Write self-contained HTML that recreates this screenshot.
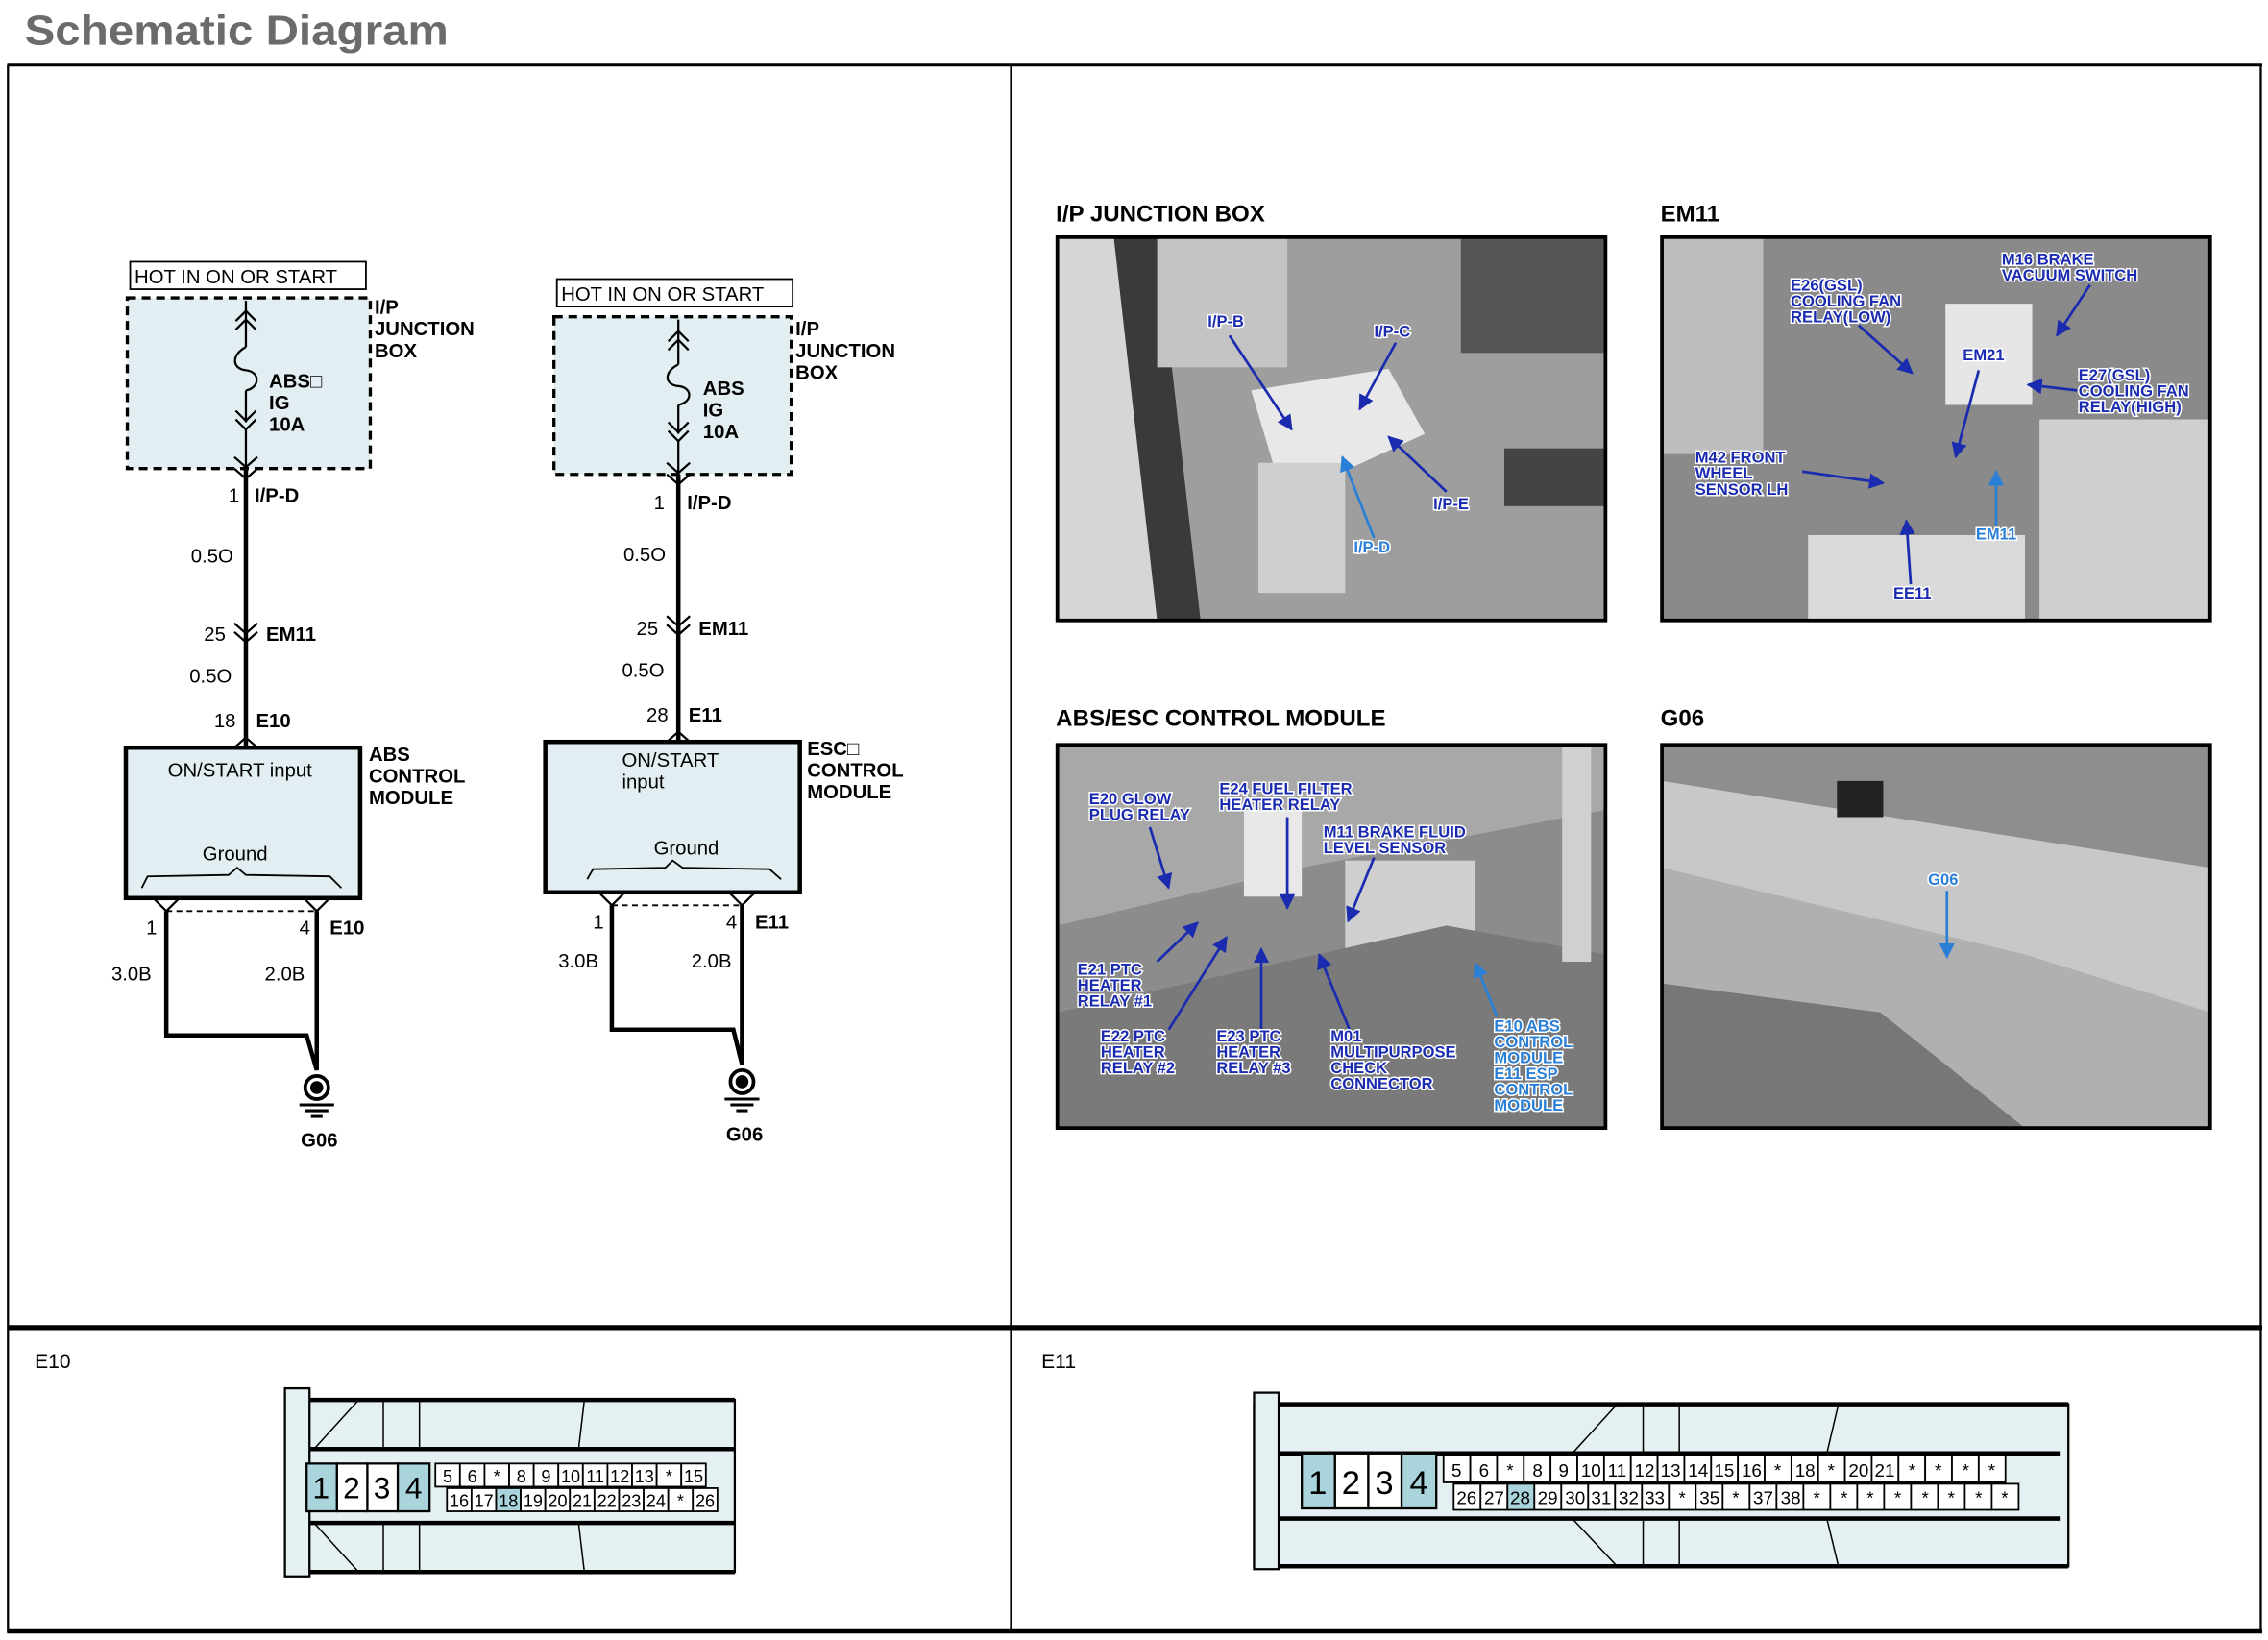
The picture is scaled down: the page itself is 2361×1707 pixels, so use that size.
<!DOCTYPE html>
<html><head><meta charset="utf-8"><style>
html,body{margin:0;padding:0;background:#fff;}
svg{display:block;}
text{font-family:"Liberation Sans",Arial,sans-serif;}
.b{font-weight:bold;font-size:13.5px;}
.n{font-size:13.5px;}
.pl{font-weight:bold;font-size:11px;fill:#1a2bb0;stroke:#fff;stroke-width:2px;paint-order:stroke;}
.pl2{font-weight:bold;font-size:11px;fill:#2a7fd6;stroke:#fff;stroke-width:2px;paint-order:stroke;}
</style></head><body>
<svg width="2361" height="1707" viewBox="0 0 1568 1134" preserveAspectRatio="none" xmlns="http://www.w3.org/2000/svg">
<defs>
<marker id="ar" viewBox="0 0 10 10" refX="9" refY="5" markerWidth="6" markerHeight="6" orient="auto"><path d="M0,0 L10,5 L0,10 z" fill="#1a2bb0"/></marker>
<marker id="ar2" viewBox="0 0 10 10" refX="9" refY="5" markerWidth="6" markerHeight="6" orient="auto"><path d="M0,0 L10,5 L0,10 z" fill="#2a7fd6"/></marker>
</defs>
<rect width="1568" height="1134" fill="#fff"/>
<text x="17" y="31" font-size="29" font-weight="bold" fill="#6b6b6b" textLength="293" lengthAdjust="spacingAndGlyphs">Schematic Diagram</text>
<!-- frame -->
<g stroke="#000" fill="none">
<line x1="5" y1="45" x2="1564" y2="45" stroke-width="2"/>
<line x1="5.5" y1="45" x2="5.5" y2="1129" stroke-width="1.5"/>
<line x1="1563" y1="45" x2="1563" y2="1129" stroke-width="1.5"/>
<line x1="699" y1="45" x2="699" y2="1129" stroke-width="1.5"/>
<line x1="5" y1="918" x2="1564" y2="918" stroke-width="3.5"/>
<line x1="5" y1="1128" x2="1564" y2="1128" stroke-width="3"/>
</g>

<!-- ===== Schematic 1 ===== -->
<g stroke="#000" fill="none">
<rect x="90" y="181" width="163" height="19" stroke-width="1.2"/>
<rect x="88" y="206" width="168" height="118" fill="#e2eef1" stroke-width="2.2" stroke-dasharray="6,4"/>
<line x1="170" y1="208" x2="170" y2="228" stroke-width="1.5"/>
<polyline points="163,222 170,215 177,222" stroke-width="1.5"/>
<polyline points="163,228 170,221 177,228" stroke-width="1.5"/>
<line x1="170" y1="228" x2="170" y2="240" stroke-width="1.5"/>
<path d="M170,240 C160,245 160,255 170,256 C180,257 180,268 170,270" stroke-width="1.5"/>
<line x1="170" y1="270" x2="170" y2="292" stroke-width="1.5"/>
<polyline points="163,284 170,291 177,284" stroke-width="1.5"/>
<polyline points="163,290 170,297 177,290" stroke-width="1.5"/>
<line x1="170" y1="297" x2="170" y2="324" stroke-width="1.5"/>
<polyline points="162,316 170,323 178,316" stroke-width="1.5"/>
<polyline points="162,324 170,331 178,324" stroke-width="1.5"/>
<line x1="170" y1="324" x2="170" y2="517" stroke-width="3"/>
<polyline points="162,431 170,438 178,431" stroke-width="1.5"/>
<polyline points="162,437 170,444 178,437" stroke-width="1.5"/>
<polyline points="162,517 170,510 178,517" stroke-width="1.5"/>
<rect x="87" y="517" width="162" height="104" fill="#e2eef1" stroke-width="3"/>
<path d="M98,614 L102,606 L158,605 L164,600 L170,605 L228,606 L236,614" stroke-width="1.2"/>
<polyline points="107,622 115,630 123,622" stroke-width="1.5"/>
<polyline points="211,622 219,630 227,622" stroke-width="1.5"/>
<line x1="115" y1="630" x2="219" y2="630" stroke-width="1.2" stroke-dasharray="4,3"/>
<polyline points="115,630 115,716 212,716 219,740 219,630" stroke-width="3"/>
<circle cx="219" cy="752" r="8" stroke-width="2.5"/>
<circle cx="219" cy="752" r="4" fill="#000"/>
<line x1="207" y1="764" x2="231" y2="764" stroke-width="2"/>
<line x1="211" y1="768" x2="227" y2="768" stroke-width="2"/>
<line x1="215" y1="772" x2="223" y2="772" stroke-width="2"/>
</g>
<text x="93" y="196" class="n">HOT IN ON OR START</text>
<text x="186" y="268" class="b">ABS□</text><text x="186" y="283" class="b">IG</text><text x="186" y="298" class="b">10A</text>
<text x="259" y="217" class="b">I/P</text><text x="259" y="232" class="b">JUNCTION</text><text x="259" y="247" class="b">BOX</text>
<text x="158" y="347" class="n">1</text><text x="176" y="347" class="b">I/P-D</text>
<text x="132" y="389" class="n">0.5O</text>
<text x="141" y="443" class="n">25</text><text x="184" y="443" class="b">EM11</text>
<text x="131" y="472" class="n">0.5O</text>
<text x="148" y="503" class="n">18</text><text x="177" y="503" class="b">E10</text>
<text x="116" y="537" class="n">ON/START input</text>
<text x="140" y="595" class="n">Ground</text>
<text x="255" y="526" class="b">ABS</text><text x="255" y="541" class="b">CONTROL</text><text x="255" y="556" class="b">MODULE</text>
<text x="101" y="646" class="n">1</text><text x="207" y="646" class="n">4</text><text x="228" y="646" class="b">E10</text>
<text x="77" y="678" class="n">3.0B</text><text x="183" y="678" class="n">2.0B</text>
<text x="208" y="793" class="b">G06</text>

<!-- ===== Schematic 2 ===== -->
<g stroke="#000" fill="none">
<rect x="385" y="193" width="163" height="19" stroke-width="1.2"/>
<rect x="383" y="219" width="164" height="109" fill="#e2eef1" stroke-width="2.2" stroke-dasharray="6,4"/>
<line x1="469" y1="221" x2="469" y2="242" stroke-width="1.5"/>
<polyline points="462,236 469,229 476,236" stroke-width="1.5"/>
<polyline points="462,242 469,235 476,242" stroke-width="1.5"/>
<line x1="469" y1="242" x2="469" y2="252" stroke-width="1.5"/>
<path d="M469,252 C459,257 459,266 469,267 C479,268 479,278 469,280" stroke-width="1.5"/>
<line x1="469" y1="280" x2="469" y2="300" stroke-width="1.5"/>
<polyline points="462,292 469,299 476,292" stroke-width="1.5"/>
<polyline points="462,298 469,305 476,298" stroke-width="1.5"/>
<line x1="469" y1="305" x2="469" y2="328" stroke-width="1.5"/>
<polyline points="461,320 469,327 477,320" stroke-width="1.5"/>
<polyline points="461,328 469,335 477,328" stroke-width="1.5"/>
<line x1="469" y1="328" x2="469" y2="513" stroke-width="3"/>
<polyline points="461,426 469,433 477,426" stroke-width="1.5"/>
<polyline points="461,432 469,439 477,432" stroke-width="1.5"/>
<polyline points="461,513 469,506 477,513" stroke-width="1.5"/>
<rect x="377" y="513" width="176" height="104" fill="#e2eef1" stroke-width="3"/>
<path d="M406,608 L410,601 L460,600 L465,595 L472,600 L532,601 L540,608" stroke-width="1.2"/>
<polyline points="415,618 423,626 431,618" stroke-width="1.5"/>
<polyline points="505,618 513,626 521,618" stroke-width="1.5"/>
<line x1="423" y1="626" x2="513" y2="626" stroke-width="1.2" stroke-dasharray="4,3"/>
<polyline points="423,626 423,712 507,712 513,736 513,626" stroke-width="3"/>
<circle cx="513" cy="748" r="8" stroke-width="2.5"/>
<circle cx="513" cy="748" r="4" fill="#000"/>
<line x1="501" y1="760" x2="525" y2="760" stroke-width="2"/>
<line x1="505" y1="764" x2="521" y2="764" stroke-width="2"/>
<line x1="509" y1="768" x2="517" y2="768" stroke-width="2"/>
</g>
<text x="388" y="208" class="n">HOT IN ON OR START</text>
<text x="486" y="273" class="b">ABS</text><text x="486" y="288" class="b">IG</text><text x="486" y="303" class="b">10A</text>
<text x="550" y="232" class="b">I/P</text><text x="550" y="247" class="b">JUNCTION</text><text x="550" y="262" class="b">BOX</text>
<text x="452" y="352" class="n">1</text><text x="475" y="352" class="b">I/P-D</text>
<text x="431" y="388" class="n">0.5O</text>
<text x="440" y="439" class="n">25</text><text x="483" y="439" class="b">EM11</text>
<text x="430" y="468" class="n">0.5O</text>
<text x="447" y="499" class="n">28</text><text x="476" y="499" class="b">E11</text>
<text x="430" y="530" class="n">ON/START</text><text x="430" y="545" class="n">input</text>
<text x="452" y="591" class="n">Ground</text>
<text x="558" y="522" class="b">ESC□</text><text x="558" y="537" class="b">CONTROL</text><text x="558" y="552" class="b">MODULE</text>
<text x="410" y="642" class="n">1</text><text x="502" y="642" class="n">4</text><text x="522" y="642" class="b">E11</text>
<text x="386" y="669" class="n">3.0B</text><text x="478" y="669" class="n">2.0B</text>
<text x="502" y="789" class="b">G06</text>

<!-- ===== Photos ===== -->
<text x="730" y="153" font-size="16" font-weight="bold">I/P JUNCTION BOX</text>
<text x="1148" y="153" font-size="16" font-weight="bold">EM11</text>
<text x="730" y="502" font-size="16" font-weight="bold">ABS/ESC CONTROL MODULE</text>
<text x="1148" y="502" font-size="16" font-weight="bold">G06</text>

<!-- photo 1 -->
<rect x="731" y="164" width="379" height="265" fill="#9e9e9e"/>
<rect x="731" y="164" width="70" height="265" fill="#d6d6d6"/>
<path d="M770,164 L800,164 L830,429 L800,429 Z" fill="#3a3a3a"/>
<rect x="800" y="164" width="90" height="90" fill="#c4c4c4"/>
<rect x="1010" y="164" width="100" height="80" fill="#555"/>
<rect x="1040" y="310" width="70" height="40" fill="#444"/>
<path d="M865,270 L960,255 L985,300 L920,330 L880,320 Z" fill="#e8e8e8"/>
<rect x="870" y="320" width="60" height="90" fill="#cfcfcf"/>
<rect x="731" y="164" width="379" height="265" fill="none" stroke="#000" stroke-width="2.5"/>
<g stroke="#1a2bb0" stroke-width="1.8" marker-end="url(#ar)">
<line x1="850" y1="232" x2="893" y2="297"/>
<line x1="965" y1="237" x2="940" y2="283"/>
<line x1="1000" y1="340" x2="960" y2="302"/>
</g>
<line x1="950" y1="372" x2="928" y2="316" stroke="#2a7fd6" stroke-width="1.8" marker-end="url(#ar2)"/>
<text x="835" y="226" class="pl">I/P-B</text>
<text x="950" y="233" class="pl">I/P-C</text>
<text x="991" y="352" class="pl">I/P-E</text>
<text x="936" y="382" class="pl2">I/P-D</text>

<!-- photo 2 -->
<rect x="1149" y="164" width="379" height="265" fill="#8a8a8a"/>
<rect x="1149" y="164" width="70" height="150" fill="#bdbdbd"/>
<rect x="1410" y="290" width="118" height="139" fill="#cfcfcf"/>
<rect x="1250" y="370" width="150" height="59" fill="#d9d9d9"/>
<rect x="1345" y="210" width="60" height="70" fill="#e6e6e6"/>
<rect x="1149" y="164" width="379" height="265" fill="none" stroke="#000" stroke-width="2.5"/>
<g stroke="#1a2bb0" stroke-width="1.8" marker-end="url(#ar)">
<line x1="1285" y1="225" x2="1322" y2="258"/>
<line x1="1445" y1="197" x2="1422" y2="232"/>
<line x1="1368" y1="256" x2="1352" y2="316"/>
<line x1="1436" y1="270" x2="1402" y2="266"/>
<line x1="1246" y1="326" x2="1302" y2="334"/>
<line x1="1321" y1="404" x2="1318" y2="360"/>
</g>
<line x1="1380" y1="364" x2="1380" y2="326" stroke="#2a7fd6" stroke-width="1.8" marker-end="url(#ar2)"/>
<text x="1238" y="201" class="pl">E26(GSL)</text><text x="1238" y="212" class="pl">COOLING FAN</text><text x="1238" y="223" class="pl">RELAY(LOW)</text>
<text x="1384" y="183" class="pl">M16 BRAKE</text><text x="1384" y="194" class="pl">VACUUM SWITCH</text>
<text x="1357" y="249" class="pl">EM21</text>
<text x="1437" y="263" class="pl">E27(GSL)</text><text x="1437" y="274" class="pl">COOLING FAN</text><text x="1437" y="285" class="pl">RELAY(HIGH)</text>
<text x="1172" y="320" class="pl">M42 FRONT</text><text x="1172" y="331" class="pl">WHEEL</text><text x="1172" y="342" class="pl">SENSOR LH</text>
<text x="1366" y="373" class="pl2">EM11</text>
<text x="1309" y="414" class="pl">EE11</text>

<!-- photo 3 -->
<rect x="731" y="515" width="379" height="265" fill="#8c8c8c"/>
<path d="M731,515 L1110,515 L1110,560 L900,600 L731,640 Z" fill="#a8a8a8"/>
<rect x="930" y="595" width="90" height="80" fill="#cfcfcf"/>
<path d="M731,700 L1000,640 L1110,660 L1110,780 L731,780 Z" fill="#7a7a7a"/>
<rect x="860" y="560" width="40" height="60" fill="#e8e8e8"/>
<rect x="1080" y="515" width="20" height="150" fill="#d0d0d0"/>
<rect x="731" y="515" width="379" height="265" fill="none" stroke="#000" stroke-width="2.5"/>
<g stroke="#1a2bb0" stroke-width="1.8" marker-end="url(#ar)">
<line x1="795" y1="572" x2="808" y2="614"/>
<line x1="890" y1="565" x2="890" y2="628"/>
<line x1="950" y1="593" x2="932" y2="637"/>
<line x1="800" y1="665" x2="828" y2="638"/>
<line x1="808" y1="712" x2="848" y2="648"/>
<line x1="872" y1="712" x2="872" y2="656"/>
<line x1="933" y1="712" x2="912" y2="660"/>
</g>
<line x1="1035" y1="703" x2="1020" y2="666" stroke="#2a7fd6" stroke-width="1.8" marker-end="url(#ar2)"/>
<text x="753" y="556" class="pl">E20 GLOW</text><text x="753" y="567" class="pl">PLUG RELAY</text>
<text x="843" y="549" class="pl">E24 FUEL FILTER</text><text x="843" y="560" class="pl">HEATER RELAY</text>
<text x="915" y="579" class="pl">M11 BRAKE FLUID</text><text x="915" y="590" class="pl">LEVEL SENSOR</text>
<text x="745" y="674" class="pl">E21 PTC</text><text x="745" y="685" class="pl">HEATER</text><text x="745" y="696" class="pl">RELAY #1</text>
<text x="761" y="720" class="pl">E22 PTC</text><text x="761" y="731" class="pl">HEATER</text><text x="761" y="742" class="pl">RELAY #2</text>
<text x="841" y="720" class="pl">E23 PTC</text><text x="841" y="731" class="pl">HEATER</text><text x="841" y="742" class="pl">RELAY #3</text>
<text x="920" y="720" class="pl">M01</text><text x="920" y="731" class="pl">MULTIPURPOSE</text><text x="920" y="742" class="pl">CHECK</text><text x="920" y="753" class="pl">CONNECTOR</text>
<text x="1033" y="713" class="pl2">E10 ABS</text><text x="1033" y="724" class="pl2">CONTROL</text><text x="1033" y="735" class="pl2">MODULE</text><text x="1033" y="746" class="pl2">E11 ESP</text><text x="1033" y="757" class="pl2">CONTROL</text><text x="1033" y="768" class="pl2">MODULE</text>

<!-- photo 4 -->
<rect x="1149" y="515" width="379" height="265" fill="#b0b0b0"/>
<path d="M1149,515 L1528,515 L1528,600 L1149,540 Z" fill="#8e8e8e"/>
<path d="M1149,540 L1528,600 L1528,700 L1400,660 L1149,600 Z" fill="#c8c8c8"/>
<path d="M1149,680 L1300,700 L1400,780 L1149,780 Z" fill="#777"/>
<rect x="1270" y="540" width="32" height="25" fill="#222"/>
<rect x="1149" y="515" width="379" height="265" fill="none" stroke="#000" stroke-width="2.5"/>
<line x1="1346" y1="616" x2="1346" y2="662" stroke="#2a7fd6" stroke-width="1.8" marker-end="url(#ar2)"/>
<text x="1333" y="612" class="pl2">G06</text>

<!-- ===== Connectors ===== -->
<text x="24" y="946" font-size="14">E10</text>
<text x="720" y="946" font-size="14">E11</text>

<!-- E10 -->
<g stroke="#000" stroke-width="1.5" fill="#e4f0f2">
<rect x="197" y="968" width="311" height="119"/>
<rect x="197" y="960" width="17" height="130"/>
<line x1="214" y1="968" x2="508" y2="968" stroke-width="3"/>
<line x1="214" y1="1002" x2="508" y2="1002" stroke-width="3"/>
<line x1="214" y1="1053" x2="508" y2="1053" stroke-width="3"/>
<line x1="214" y1="1087" x2="508" y2="1087" stroke-width="3"/>
<line x1="218" y1="1001" x2="248" y2="968" stroke-width="1"/>
<line x1="218" y1="1054" x2="248" y2="1087" stroke-width="1"/>
<line x1="265" y1="968" x2="265" y2="1002" stroke-width="1"/>
<line x1="290" y1="968" x2="290" y2="1002" stroke-width="1"/>
<line x1="265" y1="1053" x2="265" y2="1087" stroke-width="1"/>
<line x1="290" y1="1053" x2="290" y2="1087" stroke-width="1"/>
<line x1="404" y1="968" x2="400" y2="1002" stroke-width="1"/>
<line x1="400" y1="1053" x2="404" y2="1087" stroke-width="1"/>
<rect x="212" y="1012" width="21" height="33" fill="#a9d4dc"/>
<rect x="233" y="1012" width="21" height="33" fill="#fff"/>
<rect x="254" y="1012" width="21" height="33" fill="#fff"/>
<rect x="275" y="1012" width="22" height="33" fill="#a9d4dc"/>
</g>
<g font-size="21" text-anchor="middle"><text x="222" y="1036">1</text><text x="243" y="1036">2</text><text x="264" y="1036">3</text><text x="286" y="1036">4</text></g>
<g stroke="#000" stroke-width="1.2" fill="#fff">
<rect x="301" y="1012" width="17" height="16"/><rect x="318" y="1012" width="17" height="16"/><rect x="335" y="1012" width="17" height="16"/><rect x="352" y="1012" width="17" height="16"/><rect x="369" y="1012" width="17" height="16"/><rect x="386" y="1012" width="17" height="16"/><rect x="403" y="1012" width="17" height="16"/><rect x="420" y="1012" width="17" height="16"/><rect x="437" y="1012" width="17" height="16"/><rect x="454" y="1012" width="17" height="16"/><rect x="471" y="1012" width="17" height="16"/>
<rect x="309" y="1029" width="17" height="16"/><rect x="326" y="1029" width="17" height="16"/><rect x="343" y="1029" width="17" height="16" fill="#a9d4dc"/><rect x="360" y="1029" width="17" height="16"/><rect x="377" y="1029" width="17" height="16"/><rect x="394" y="1029" width="17" height="16"/><rect x="411" y="1029" width="17" height="16"/><rect x="428" y="1029" width="17" height="16"/><rect x="445" y="1029" width="17" height="16"/><rect x="462" y="1029" width="17" height="16"/><rect x="479" y="1029" width="17" height="16"/>
</g>
<g font-size="12" text-anchor="middle">
<text x="309.5" y="1025">5</text><text x="326.5" y="1025">6</text><text x="343.5" y="1025">*</text><text x="360.5" y="1025">8</text><text x="377.5" y="1025">9</text><text x="394.5" y="1025">10</text><text x="411.5" y="1025">11</text><text x="428.5" y="1025">12</text><text x="445.5" y="1025">13</text><text x="462.5" y="1025">*</text><text x="479.5" y="1025">15</text>
<text x="317.5" y="1042">16</text><text x="334.5" y="1042">17</text><text x="351.5" y="1042">18</text><text x="368.5" y="1042">19</text><text x="385.5" y="1042">20</text><text x="402.5" y="1042">21</text><text x="419.5" y="1042">22</text><text x="436.5" y="1042">23</text><text x="453.5" y="1042">24</text><text x="470.5" y="1042">*</text><text x="487.5" y="1042">26</text>
</g>

<!-- E11 -->
<g stroke="#000" stroke-width="1.5" fill="#e4f0f2">
<rect x="867" y="971" width="563" height="112"/>
<rect x="867" y="963" width="17" height="122"/>
<line x1="884" y1="971" x2="1430" y2="971" stroke-width="3"/>
<line x1="884" y1="1005" x2="1424" y2="1005" stroke-width="3"/>
<line x1="884" y1="1050" x2="1424" y2="1050" stroke-width="3"/>
<line x1="884" y1="1083" x2="1430" y2="1083" stroke-width="3"/>
<line x1="1087" y1="1005" x2="1118" y2="971" stroke-width="1"/>
<line x1="1087" y1="1050" x2="1118" y2="1083" stroke-width="1"/>
<line x1="1136" y1="971" x2="1136" y2="1005" stroke-width="1"/>
<line x1="1161" y1="971" x2="1161" y2="1005" stroke-width="1"/>
<line x1="1136" y1="1050" x2="1136" y2="1083" stroke-width="1"/>
<line x1="1161" y1="1050" x2="1161" y2="1083" stroke-width="1"/>
<line x1="1271" y1="971" x2="1263" y2="1005" stroke-width="1"/>
<line x1="1263" y1="1050" x2="1271" y2="1083" stroke-width="1"/>
<rect x="900" y="1005" width="23" height="38" fill="#a9d4dc"/>
<rect x="923" y="1005" width="23" height="38" fill="#fff"/>
<rect x="946" y="1005" width="23" height="38" fill="#fff"/>
<rect x="969" y="1005" width="24" height="38" fill="#a9d4dc"/>
</g>
<g font-size="23" text-anchor="middle"><text x="911" y="1033">1</text><text x="934" y="1033">2</text><text x="957" y="1033">3</text><text x="981" y="1033">4</text></g>
<g stroke="#000" stroke-width="1.2" fill="#fff">
<rect x="998" y="1006" width="18.5" height="19"/><rect x="1016.5" y="1006" width="18.5" height="19"/><rect x="1035" y="1006" width="18.5" height="19"/><rect x="1053.5" y="1006" width="18.5" height="19"/><rect x="1072" y="1006" width="18.5" height="19"/><rect x="1090.5" y="1006" width="18.5" height="19"/><rect x="1109" y="1006" width="18.5" height="19"/><rect x="1127.5" y="1006" width="18.5" height="19"/><rect x="1146" y="1006" width="18.5" height="19"/><rect x="1164.5" y="1006" width="18.5" height="19"/><rect x="1183" y="1006" width="18.5" height="19"/><rect x="1201.5" y="1006" width="18.5" height="19"/><rect x="1220" y="1006" width="18.5" height="19"/><rect x="1238.5" y="1006" width="18.5" height="19"/><rect x="1257" y="1006" width="18.5" height="19"/><rect x="1275.5" y="1006" width="18.5" height="19"/><rect x="1294" y="1006" width="18.5" height="19"/><rect x="1312.5" y="1006" width="18.5" height="19"/><rect x="1331" y="1006" width="18.5" height="19"/><rect x="1349.5" y="1006" width="18.5" height="19"/><rect x="1368" y="1006" width="18.5" height="19"/>
<rect x="1005" y="1026" width="18.6" height="18"/><rect x="1023.6" y="1026" width="18.6" height="18"/><rect x="1042.2" y="1026" width="18.6" height="18" fill="#a9d4dc"/><rect x="1060.8" y="1026" width="18.6" height="18"/><rect x="1079.4" y="1026" width="18.6" height="18"/><rect x="1098" y="1026" width="18.6" height="18"/><rect x="1116.6" y="1026" width="18.6" height="18"/><rect x="1135.2" y="1026" width="18.6" height="18"/><rect x="1153.8" y="1026" width="18.6" height="18"/><rect x="1172.4" y="1026" width="18.6" height="18"/><rect x="1191" y="1026" width="18.6" height="18"/><rect x="1209.6" y="1026" width="18.6" height="18"/><rect x="1228.2" y="1026" width="18.6" height="18"/><rect x="1246.8" y="1026" width="18.6" height="18"/><rect x="1265.4" y="1026" width="18.6" height="18"/><rect x="1284" y="1026" width="18.6" height="18"/><rect x="1302.6" y="1026" width="18.6" height="18"/><rect x="1321.2" y="1026" width="18.6" height="18"/><rect x="1339.8" y="1026" width="18.6" height="18"/><rect x="1358.4" y="1026" width="18.6" height="18"/><rect x="1377" y="1026" width="18.6" height="18"/>
</g>
<g font-size="12.5" text-anchor="middle">
<text x="1007" y="1021">5</text><text x="1026" y="1021">6</text><text x="1044" y="1021">*</text><text x="1063" y="1021">8</text><text x="1081" y="1021">9</text><text x="1100" y="1021">10</text><text x="1118" y="1021">11</text><text x="1137" y="1021">12</text><text x="1155" y="1021">13</text><text x="1174" y="1021">14</text><text x="1192" y="1021">15</text><text x="1211" y="1021">16</text><text x="1229" y="1021">*</text><text x="1248" y="1021">18</text><text x="1266" y="1021">*</text><text x="1285" y="1021">20</text><text x="1303" y="1021">21</text><text x="1322" y="1021">*</text><text x="1340" y="1021">*</text><text x="1359" y="1021">*</text><text x="1377" y="1021">*</text>
<text x="1014" y="1040">26</text><text x="1033" y="1040">27</text><text x="1051" y="1040">28</text><text x="1070" y="1040">29</text><text x="1089" y="1040">30</text><text x="1107" y="1040">31</text><text x="1126" y="1040">32</text><text x="1144" y="1040">33</text><text x="1163" y="1040">*</text><text x="1182" y="1040">35</text><text x="1200" y="1040">*</text><text x="1219" y="1040">37</text><text x="1238" y="1040">38</text><text x="1256" y="1040">*</text><text x="1275" y="1040">*</text><text x="1293" y="1040">*</text><text x="1312" y="1040">*</text><text x="1331" y="1040">*</text><text x="1349" y="1040">*</text><text x="1368" y="1040">*</text><text x="1386" y="1040">*</text>
</g>
</svg>
</body></html>
